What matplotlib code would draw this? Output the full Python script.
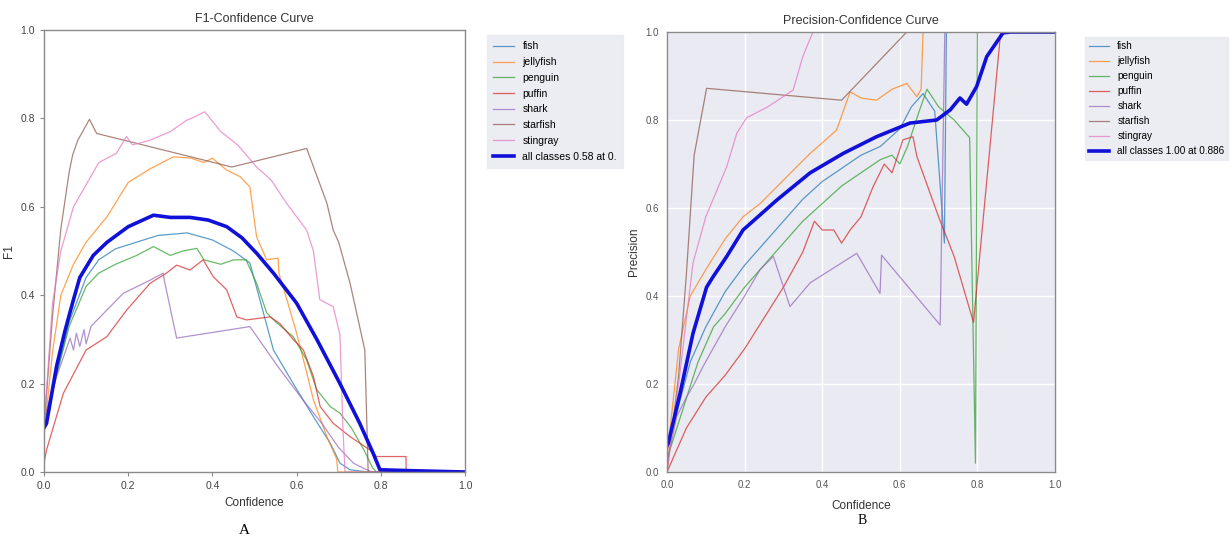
import matplotlib
matplotlib.use("Agg")
import matplotlib.pyplot as plt
from matplotlib.patches import Rectangle

plt.rcParams['font.family'] = ['Liberation Sans', 'DejaVu Sans']

class_names = ["fish", "jellyfish", "penguin", "puffin", "shark", "starfish", "stingray"]
class_colors = ["tab:blue", "tab:orange", "tab:green", "tab:red", "tab:purple", "tab:brown", "tab:pink"]

# ---- F1-Confidence curve (A) ----
f1_fish = [(0, 0.10), (0.03, 0.22), (0.06, 0.34), (0.10, 0.44), (0.13, 0.48), (0.17, 0.505), (0.22, 0.52),
           (0.27, 0.535), (0.34, 0.541), (0.40, 0.525), (0.45, 0.50), (0.489, 0.473), (0.513, 0.389),
           (0.545, 0.276), (0.592, 0.20), (0.64, 0.125), (0.68, 0.065), (0.703, 0.02), (0.727, 0.005),
           (0.77, 0.0), (1.0, 0.0)]
f1_jellyfish = [(0, 0.08), (0.02, 0.27), (0.04, 0.40), (0.07, 0.47), (0.10, 0.52), (0.15, 0.578), (0.20, 0.655),
                (0.25, 0.685), (0.307, 0.713), (0.35, 0.71), (0.38, 0.70), (0.40, 0.71), (0.434, 0.683),
                (0.466, 0.668), (0.489, 0.645), (0.505, 0.532), (0.529, 0.48), (0.556, 0.484), (0.558, 0.45),
                (0.58, 0.38), (0.60, 0.314), (0.62, 0.24), (0.64, 0.163), (0.672, 0.08), (0.695, 0.03),
                (0.698, 0.0), (1.0, 0.0)]
f1_penguin = [(0, 0.10), (0.03, 0.22), (0.06, 0.33), (0.10, 0.42), (0.13, 0.45), (0.17, 0.47), (0.22, 0.49),
              (0.26, 0.51), (0.30, 0.49), (0.33, 0.50), (0.363, 0.506), (0.38, 0.48), (0.42, 0.47),
              (0.45, 0.48), (0.48, 0.48), (0.505, 0.427), (0.529, 0.36), (0.55, 0.34), (0.592, 0.306),
              (0.624, 0.253), (0.648, 0.186), (0.68, 0.148), (0.703, 0.133), (0.73, 0.10), (0.76, 0.05),
              (0.78, 0.01), (0.79, 0.0), (1.0, 0.0)]
f1_puffin = [(0, 0.02), (0.006, 0.05), (0.046, 0.178), (0.10, 0.276), (0.149, 0.306), (0.196, 0.366),
             (0.252, 0.427), (0.291, 0.45), (0.315, 0.468), (0.347, 0.457), (0.378, 0.48), (0.402, 0.442),
             (0.434, 0.412), (0.458, 0.351), (0.481, 0.344), (0.537, 0.351), (0.56, 0.336), (0.592, 0.30),
             (0.616, 0.276), (0.64, 0.216), (0.656, 0.148), (0.687, 0.11), (0.727, 0.08), (0.774, 0.05),
             (0.79, 0.035), (0.86, 0.035), (0.86, 0.0), (1.0, 0.0)]
f1_shark = [(0, 0.12), (0.03, 0.216), (0.062, 0.303), (0.07, 0.276), (0.077, 0.314), (0.085, 0.284),
            (0.095, 0.322), (0.10, 0.29), (0.112, 0.33), (0.188, 0.404), (0.252, 0.434), (0.283, 0.45),
            (0.287, 0.428), (0.315, 0.303), (0.489, 0.329), (0.556, 0.238), (0.615, 0.163), (0.66, 0.11),
            (0.70, 0.055), (0.735, 0.02), (0.76, 0.008), (0.78, 0.0), (1.0, 0.0)]
f1_starfish = [(0, 0.10), (0.02, 0.35), (0.04, 0.55), (0.06, 0.68), (0.068, 0.717), (0.08, 0.75),
               (0.108, 0.798), (0.125, 0.766), (0.446, 0.69), (0.624, 0.732), (0.672, 0.608),
               (0.687, 0.547), (0.70, 0.52), (0.727, 0.427), (0.762, 0.276), (0.77, 0.0), (1.0, 0.0)]
f1_stingray = [(0, 0.10), (0.02, 0.38), (0.04, 0.50), (0.07, 0.60), (0.10, 0.65), (0.13, 0.70), (0.172, 0.721),
               (0.196, 0.759), (0.21, 0.74), (0.25, 0.75), (0.30, 0.77), (0.339, 0.796), (0.35, 0.80),
               (0.382, 0.815), (0.42, 0.77), (0.46, 0.74), (0.505, 0.69), (0.54, 0.66), (0.576, 0.608),
               (0.624, 0.547), (0.64, 0.50), (0.655, 0.39), (0.687, 0.374), (0.703, 0.31), (0.71, 0.10),
               (0.715, 0.0), (1.0, 0.0)]
f1_all = [(0, 0.10), (0.006, 0.11), (0.03, 0.24), (0.05, 0.32), (0.07, 0.39), (0.085, 0.44), (0.117, 0.49),
          (0.15, 0.52), (0.20, 0.555), (0.26, 0.581), (0.30, 0.576), (0.347, 0.576), (0.39, 0.57),
          (0.434, 0.555), (0.47, 0.53), (0.505, 0.495), (0.545, 0.45), (0.60, 0.382), (0.648, 0.30),
          (0.703, 0.20), (0.75, 0.11), (0.782, 0.042), (0.798, 0.005), (0.87, 0.003), (1.0, 0.0)]
f1_all_label = "all classes 0.58 at 0."

# ---- Precision-Confidence curve (B) ----
p_fish = [(0, 0.05), (0.03, 0.15), (0.06, 0.25), (0.10, 0.33), (0.15, 0.41), (0.20, 0.47), (0.25, 0.52),
          (0.30, 0.57), (0.35, 0.62), (0.40, 0.66), (0.45, 0.69), (0.50, 0.72), (0.55, 0.74), (0.60, 0.78),
          (0.63, 0.83), (0.66, 0.86), (0.69, 0.82), (0.715, 0.52), (0.72, 1.0), (1.0, 1.0)]
p_jellyfish = [(0, 0.03), (0.03, 0.28), (0.06, 0.40), (0.10, 0.46), (0.15, 0.53), (0.196, 0.58), (0.24, 0.61),
               (0.283, 0.648), (0.33, 0.69), (0.369, 0.724), (0.437, 0.777), (0.472, 0.864), (0.50, 0.85),
               (0.54, 0.845), (0.58, 0.87), (0.618, 0.883), (0.644, 0.853), (0.655, 0.87), (0.66, 1.0),
               (1.0, 1.0)]
p_penguin = [(0, 0.03), (0.04, 0.14), (0.08, 0.25), (0.12, 0.33), (0.15, 0.36), (0.20, 0.42), (0.25, 0.47),
             (0.30, 0.52), (0.35, 0.57), (0.40, 0.61), (0.45, 0.65), (0.50, 0.68), (0.55, 0.71), (0.58, 0.72),
             (0.60, 0.70), (0.62, 0.74), (0.65, 0.82), (0.67, 0.87), (0.70, 0.83), (0.74, 0.80), (0.78, 0.76),
             (0.795, 0.02), (0.80, 1.0), (1.0, 1.0)]
p_puffin = [(0, 0.0), (0.05, 0.10), (0.10, 0.17), (0.15, 0.22), (0.20, 0.28), (0.25, 0.35), (0.30, 0.42),
            (0.35, 0.50), (0.38, 0.57), (0.40, 0.55), (0.43, 0.55), (0.45, 0.52), (0.472, 0.55), (0.50, 0.58),
            (0.531, 0.648), (0.56, 0.70), (0.58, 0.68), (0.608, 0.755), (0.634, 0.762), (0.644, 0.717),
            (0.70, 0.58), (0.74, 0.49), (0.79, 0.34), (0.86, 1.0), (1.0, 1.0)]
p_shark = [(0, 0.02), (0.025, 0.126), (0.05, 0.17), (0.07, 0.20), (0.093, 0.24), (0.15, 0.33), (0.20, 0.40),
           (0.24, 0.46), (0.274, 0.49), (0.317, 0.376), (0.369, 0.43), (0.489, 0.497), (0.549, 0.406),
           (0.553, 0.493), (0.704, 0.334), (0.716, 1.0), (1.0, 1.0)]
p_starfish = [(0, 0.0), (0.03, 0.22), (0.05, 0.45), (0.07, 0.72), (0.102, 0.872), (0.45, 0.845), (0.618, 1.0),
              (1.0, 1.0)]
p_stingray = [(0, 0.0), (0.03, 0.20), (0.067, 0.475), (0.10, 0.58), (0.154, 0.694), (0.18, 0.77),
              (0.205, 0.805), (0.26, 0.83), (0.325, 0.868), (0.35, 0.944), (0.376, 1.0), (1.0, 1.0)]
p_all = [(0, 0.06), (0.003, 0.065), (0.034, 0.18), (0.067, 0.315), (0.102, 0.42), (0.119, 0.444),
         (0.154, 0.49), (0.196, 0.55), (0.283, 0.618), (0.369, 0.68), (0.454, 0.724), (0.54, 0.762),
         (0.626, 0.793), (0.695, 0.80), (0.73, 0.823), (0.755, 0.85), (0.772, 0.836), (0.798, 0.876),
         (0.824, 0.944), (0.866, 0.998), (0.886, 1.0), (1.0, 1.0)]
p_all_label = "all classes 1.00 at 0.886"

ticks = [0.0, 0.2, 0.4, 0.6, 0.8, 1.0]

W, H = 1232, 542
fig = plt.figure(figsize=(W / 100, H / 100), dpi=100)
fig.patch.set_facecolor("white")


def draw_panel(ax, curves, all_curve, all_label, title, ylabel):
    for name, color, pts in zip(class_names, class_colors, curves):
        ax.plot([p[0] for p in pts], [p[1] for p in pts], color=color, linewidth=0.9, alpha=0.72, label=name)
    ax.plot([p[0] for p in all_curve], [p[1] for p in all_curve], color="#1010d8", linewidth=2.6, label=all_label)
    ax.set_xlim(0, 1)
    ax.set_ylim(0, 1)
    ax.set_xticks(ticks)
    ax.set_yticks(ticks)
    ax.set_xticklabels(["%.1f" % t for t in ticks])
    ax.set_yticklabels(["%.1f" % t for t in ticks])
    ax.set_title(title, fontsize=9, color="#333333")
    ax.set_ylabel(ylabel, fontsize=8.5, color="#333333")
    for sp in ax.spines.values():
        sp.set_color("#8a8a8a")
        sp.set_linewidth(1.0)


# panel A
ax1 = fig.add_axes([44 / W, 1 - 472 / H, 421 / W, 442 / H])
draw_panel(ax1, [f1_fish, f1_jellyfish, f1_penguin, f1_puffin, f1_shark, f1_starfish, f1_stingray],
           f1_all, f1_all_label, "F1-Confidence Curve", "F1")
ax1.set_xlabel("Confidence", fontsize=8.5, color="#333333")
ax1.tick_params(labelsize=7.5, labelcolor="#444444", color="#8a8a8a", length=3)
ax1.legend(bbox_to_anchor=(1.04, 1), loc="upper left", fontsize=7.5, labelspacing=0.55,
           borderpad=0.6, frameon=True, facecolor="#EAEAF2", edgecolor="#EAEAF2", framealpha=0.9,
           fancybox=False)
ax1.set_zorder(0)

# white strip where the second picture starts (cuts the first legend)
fig.patches.append(Rectangle((628 / W, 0), (667 - 628) / W, 1, transform=fig.transFigure,
                             facecolor="white", edgecolor="none", zorder=1))

# panel B
ax2 = fig.add_axes([667 / W, 1 - 472 / H, 388 / W, 440 / H])
ax2.set_facecolor("#EAEAF2")
draw_panel(ax2, [p_fish, p_jellyfish, p_penguin, p_puffin, p_shark, p_starfish, p_stingray],
           p_all, p_all_label, "Precision-Confidence Curve", "Precision")
ax2.set_xlabel("Confidence", fontsize=8.5, color="#333333", labelpad=7)
ax2.grid(True, color="white", linewidth=1.0)
ax2.set_axisbelow(True)
ax2.tick_params(labelsize=7, labelcolor="#555555", length=0, pad=6)
ax2.legend(bbox_to_anchor=(1.065, 1), loc="upper left", fontsize=7.2, labelspacing=0.5,
           frameon=True, facecolor="#EAEAF2", edgecolor="#EAEAF2", framealpha=0.9, fancybox=False)
ax2.set_zorder(2)

fig.text(244 / W, 1 - 530 / H, "A", fontsize=11, family="Liberation Serif", ha="center", va="center")
fig.text(862 / W, 1 - 521 / H, "B", fontsize=10, family="Liberation Serif", ha="center", va="center")

fig.savefig("out.png", dpi=100)
